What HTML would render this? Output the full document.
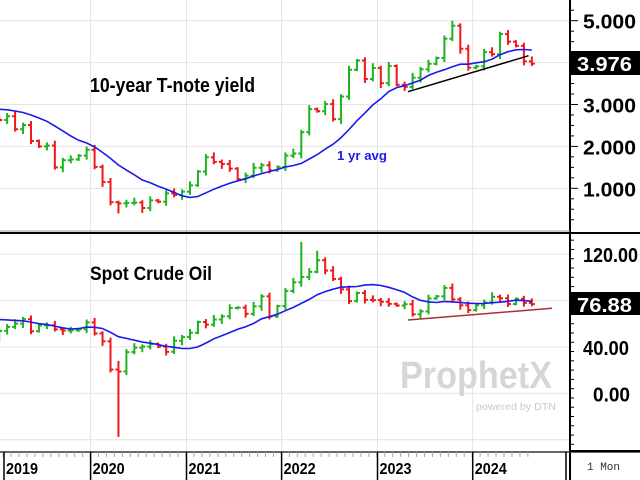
<!DOCTYPE html>
<html><head><meta charset="utf-8"><style>
html,body{margin:0;padding:0;background:#fff;width:640px;height:480px;overflow:hidden}
svg{display:block;font-family:"Liberation Sans",Arial,sans-serif}
</style></head><body>
<svg id="s" width="640" height="480" xmlns="http://www.w3.org/2000/svg"></svg>
<script>
var s=document.getElementById('s'),o='';
function L(x1,y1,x2,y2,c,w){o+='<line x1="'+x1+'" y1="'+y1+'" x2="'+x2+'" y2="'+y2+'" stroke="'+c+'" stroke-width="'+(w||1)+'"/>';}
function T(x,y,t,st,tl){o+='<text x="'+x+'" y="'+y+'" style="'+st+'"'+(tl?' textLength="'+tl+'" lengthAdjust="spacingAndGlyphs"':'')+'>'+t+'</text>';}
var PX=7.95;function X(m){return 90.6+(m-12)*PX+4;}
[90.6,186.5,281.6,377.5,472.7].forEach(function(x){L(x,0,x,452,'#e4e4e4');});
function YT(v){return 20.7+(5-v)*41.9;}
function YB(v){return 393.3-v*1.16;}
[5,4,3,2,1].forEach(function(v){L(0,YT(v),570,YT(v),'#e4e4e4');});
[120,80,40,0,-40].forEach(function(v){L(0,YB(v),570,YB(v),'#e4e4e4');});
var y18=[2.72,2.86,2.74,2.95,2.86,2.85,2.96,2.86,3.06,3.15,3.01,2.69];
var yc=[2.63,2.72,2.41,2.51,2.13,2.00,2.02,1.50,1.67,1.69,1.78,1.92,1.51,1.15,0.67,0.64,0.65,0.66,0.53,0.71,0.68,0.88,0.84,0.92,1.07,1.40,1.74,1.63,1.58,1.47,1.22,1.30,1.49,1.55,1.43,1.51,1.78,1.83,2.34,2.89,2.84,3.01,2.65,3.19,3.83,4.05,3.61,3.87,3.51,3.92,3.47,3.42,3.64,3.84,3.97,4.11,4.57,4.88,4.33,3.88,3.91,4.25,4.20,4.68,4.50,4.40,4.03,3.976];
var c18=[64.7,61.6,64.9,68.6,67.0,74.2,68.8,69.8,73.3,65.3,50.9,45.4];
var cc=[53.8,57.2,60.1,63.9,53.5,58.5,58.6,55.1,54.1,54.2,55.2,61.1,51.6,44.8,20.5,18.8,35.5,39.3,40.3,42.6,40.2,35.8,45.3,48.5,52.2,61.5,59.2,63.6,66.3,73.5,73.9,68.5,75.0,83.6,66.2,75.2,88.2,95.7,100.3,104.7,114.7,105.8,98.6,89.6,79.5,86.5,80.6,80.3,78.9,77.1,75.7,76.8,68.1,70.6,81.8,83.6,90.8,81.0,75.9,71.7,75.9,78.3,83.2,81.9,77.0,81.5,77.9,76.88];
function bars(pre,cl,Y,ext,spec){
 for(var i=0;i<cl.length;i++){var op=i?cl[i-1]:pre[11],c=cl[i];
  var hi=Math.max(op,c)+ext*(0.3+((i*7)%5)/6),lo=Math.min(op,c)-ext*(0.3+((i*3)%5)/6);
  if(spec[i]){if(spec[i][0]!=null)hi=spec[i][0];if(spec[i][1]!=null)lo=spec[i][1];}
  var x=X(i),col=c>=op?'#1fb31f':'#f01818';
  L(x,Y(hi),x,Y(lo),col,2);L(x-3,Y(op),x,Y(op),col,2);L(x,Y(c),x+3,Y(c),col,2);}
 var all=pre.concat(cl),p='';
 for(var i=0;i<cl.length;i++){var a=0;for(var k=i+1;k<=i+12;k++)a+=all[k];a/=12;p+='L'+X(i).toFixed(1)+' '+Y(a).toFixed(1);}
 o+='<path d="M-5 '+Y(pre.reduce(function(a,b){return a+b})/12).toFixed(1)+p+'" fill="none" stroke="#1a1aee" stroke-width="1.6"/>';
}
o+='<defs><clipPath id="c1"><rect x="0" y="0" width="569" height="229"/></clipPath><clipPath id="c2"><rect x="0" y="234" width="569" height="217"/></clipPath></defs>';
o+='<g clip-path="url(#c1)">';
bars(y18,yc,YT,0.12,{15:[null,0.4],57:[5.0,null]});
o+='</g><g clip-path="url(#c2)">';
bars(c18,cc,YB,4,{15:[28,-37.6],38:[130.5,null],40:[123,null],14:[48,null]});
o+='</g>';
L(408,91.7,528.6,55.7,'#000',1.5);
L(408,320,552,308.3,'#a83232',1.5);
var B='font-weight:bold;fill:#000;';
T(90,92,'10-year T-note yield','font-size:20px;'+B,165);
T(337,160,'1 yr avg','font-size:13px;font-weight:bold;fill:#1a1aee',50);
T(90,280,'Spot Crude Oil','font-size:19px;'+B,122);
T(400,388,'ProphetX','font-size:38px;font-weight:bold;fill:#d6d6d6',152);
T(476,410,'powered by DTN','font-size:10px;fill:#c8c8c8',80);
L(570,0,570,480,'#000',2);
L(0,231,570,231,'#999',1);L(0,233,640,233,'#000',2);
L(0,452,640,452,'#333',1.5);L(570,451,640,451,'#000',2);
for(var m=-1;m<68;m++){var x=90.6+(m-12)*PX;L(x,452,x,457,'#aaa');}
[4,90.6,186.5,281.6,377.5,472.7].forEach(function(x,i){L(x,452,x,480,'#000',1.5);T(x+2,474,2019+i,'font-size:16px;'+B,32);});
L(566,452,566,480,'#000',1.5);
for(var v=5.25;v>0.1;v-=0.25){var y=YT(v);L(570,y,(Math.abs(v-Math.round(v))<0.01)?578:574,y,'#000');}
for(var v=140;v>-45;v-=8){var y=YB(v);if(y>236&&y<450)L(570,y,(v%40==0)?578:574,y,'#000');}
[5,3,2,1].forEach(function(v){T(583,YT(v)+8,v+'.000','font-size:20px;'+B,53);});
[120,40].forEach(function(v){T(583,YB(v)+8,v+'.00','font-size:20px;'+B,v==120?55:46);});
T(593,YB(0)+8,'0.00','font-size:20px;'+B,37);
o+='<rect x="571" y="51" width="69" height="24" fill="#000"/>';
T(577,71,'3.976','font-size:20px;font-weight:bold;fill:#fff',55);
o+='<rect x="571" y="292" width="69" height="23" fill="#000"/>';
T(577,312,'76.88','font-size:20px;font-weight:bold;fill:#fff',55);
T(587,470,'1 Mon','font-size:11px;font-family:Liberation Mono,monospace;fill:#333');
s.innerHTML=o;
</script>
</body></html>
